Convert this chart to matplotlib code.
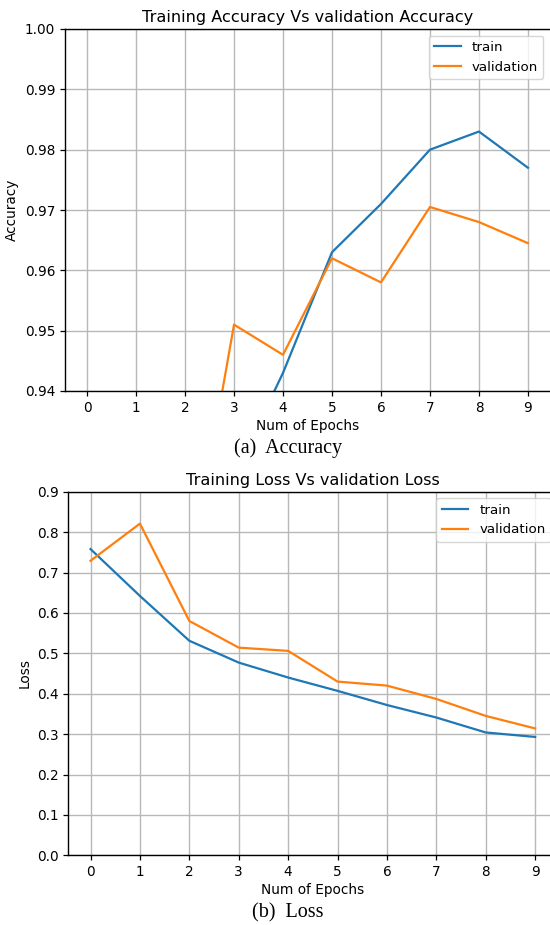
import matplotlib
matplotlib.use("Agg")
import matplotlib.pyplot as plt

epochs = list(range(10))
acc_train = [0.780, 0.860, 0.900, 0.926, 0.943, 0.963, 0.971, 0.980, 0.983, 0.977]
acc_val = [0.800, 0.850, 0.905, 0.951, 0.946, 0.962, 0.958, 0.9705, 0.968, 0.9645]
loss_train = [0.758, 0.642, 0.531, 0.477, 0.440, 0.407, 0.372, 0.341, 0.304, 0.293]
loss_val = [0.729, 0.821, 0.580, 0.514, 0.506, 0.430, 0.420, 0.387, 0.345, 0.314]
acc_yticks = [0.94, 0.95, 0.96, 0.97, 0.98, 0.99, 1.00]
loss_yticks = [0.0, 0.1, 0.2, 0.3, 0.4, 0.5, 0.6, 0.7, 0.8, 0.9]

W, H = 550, 925
fig = plt.figure(figsize=(W / 100, H / 100), dpi=100)

TICK = 9.8
C_TRAIN = "#1f77b4"
C_VAL = "#ff7f0e"


def style(ax):
    ax.grid(True, color="#b8b8b8", linewidth=1.0)
    ax.set_axisbelow(True)
    ax.tick_params(labelsize=TICK, length=3.5, width=0.9)
    ax.spines["right"].set_visible(False)
    for s in ("left", "top", "bottom"):
        ax.spines[s].set_linewidth(1.0)
    ax.set_xticks(epochs)
    ax.set_xlim(-0.45, 9.45)


# top: accuracy
ax1 = fig.add_axes([65 / W, 1 - 391 / H, (550 - 65) / W, (391 - 29) / H])
ax1.plot(epochs, acc_train, color=C_TRAIN, lw=1.6, label="train")
ax1.plot(epochs, acc_val, color=C_VAL, lw=1.6, label="validation")
ax1.set_ylim(0.94, 1.00)
ax1.set_yticks(acc_yticks)
ax1.set_yticklabels([f"{v:.2f}" for v in acc_yticks])
style(ax1)
ax1.set_title("Training Accuracy Vs validation Accuracy", fontsize=11.6, pad=5)
ax1.set_xlabel("Num of Epochs", fontsize=TICK, labelpad=3)
ax1.set_ylabel("Accuracy", fontsize=TICK, labelpad=4)
ax1.legend(loc="upper right", fontsize=9.6, framealpha=0.8, borderaxespad=0.5)

# bottom: loss
ax2 = fig.add_axes([68.3 / W, 1 - 855.3 / H, (557.4 - 68.3) / W, (855.3 - 491.7) / H])
ax2.plot(epochs, loss_train, color=C_TRAIN, lw=1.6, label="train")
ax2.plot(epochs, loss_val, color=C_VAL, lw=1.6, label="validation")
ax2.set_ylim(0.0, 0.9)
ax2.set_yticks(loss_yticks)
ax2.set_yticklabels([f"{v:.1f}" for v in loss_yticks])
style(ax2)
ax2.set_title("Training Loss Vs validation Loss", fontsize=11.6, pad=5)
ax2.set_xlabel("Num of Epochs", fontsize=TICK, labelpad=3)
ax2.set_ylabel("Loss", fontsize=TICK, labelpad=4)
ax2.legend(loc="upper right", fontsize=9.6, framealpha=0.8, borderaxespad=0.5)

fig.text(288 / W, 1 - 448 / H, "(a)  Accuracy", ha="center", va="center",
         fontsize=14.5, family="Liberation Serif")
fig.text(288 / W, 1 - 913 / H, "(b)  Loss", ha="center", va="center",
         fontsize=14.5, family="Liberation Serif")

fig.savefig("out.png", dpi=100)
